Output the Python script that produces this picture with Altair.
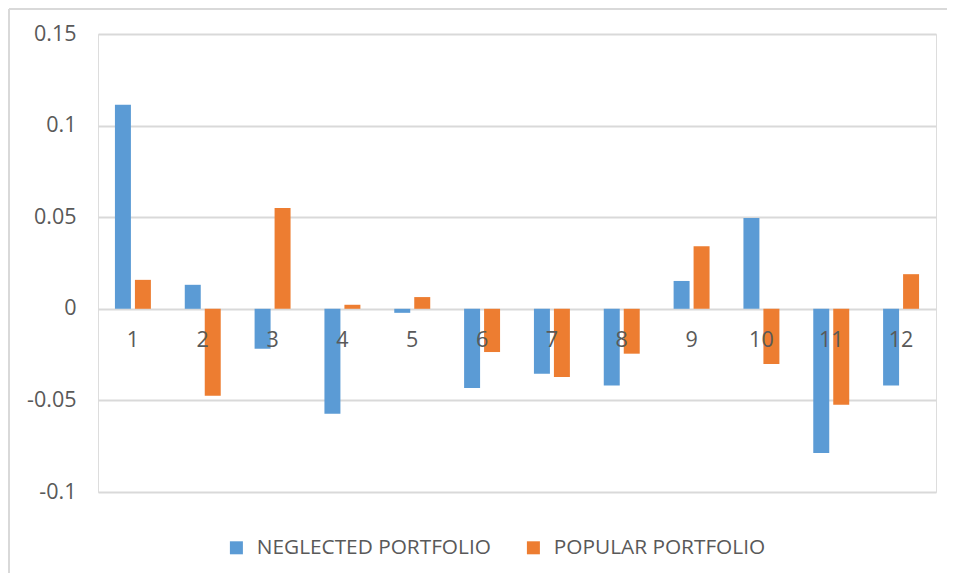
import altair as alt
import pandas as pd

months = [str(i) for i in range(1, 13)]
neglected = [0.1114, 0.0131, -0.0218, -0.0573, -0.0022, -0.0432, -0.0355, -0.0419, 0.0152, 0.0495, -0.0787, -0.0419]
popular = [0.0158, -0.0475, 0.0550, 0.0022, 0.0064, -0.0236, -0.0372, -0.0245, 0.0341, -0.0301, -0.0524, 0.0189]
series_names = ["NEGLECTED PORTFOLIO", "POPULAR PORTFOLIO"]
colors = ["#5B9BD5", "#ED7D31"]
y_ticks = [-0.1, -0.05, 0, 0.05, 0.1, 0.15]

rows = []
for m, a, b in zip(months, neglected, popular):
    rows.append({"month": m, "series": series_names[0], "value": a})
    rows.append({"month": m, "series": series_names[1], "value": b})
df = pd.DataFrame(rows)
labels_df = pd.DataFrame({"month": months})

FONT = "Open Sans"
TXT = "#595959"
GRID = "#D9D9D9"
FS = 21.5

x_enc = alt.X("month:N", sort=months, axis=None,
              scale=alt.Scale(paddingInner=0.485, paddingOuter=0.2425))

bars = alt.Chart(df).mark_bar().encode(
    x=x_enc,
    xOffset=alt.XOffset("series:N", sort=series_names,
                        scale=alt.Scale(paddingInner=0.2, paddingOuter=0)),
    y=alt.Y("value:Q",
            scale=alt.Scale(domain=[-0.1, 0.15], nice=False, zero=False),
            axis=alt.Axis(values=y_ticks, title=None, ticks=False, domain=False,
                          labelPadding=22, labelFontSize=FS, labelFont=FONT,
                          labelColor=TXT, gridColor=GRID, gridWidth=2,
                          labelExpr="'' + datum.value")),
    color=alt.Color("series:N", sort=series_names,
                    scale=alt.Scale(domain=series_names, range=colors),
                    legend=alt.Legend(title=None, orient="none", direction="horizontal",
                                      legendX=128, legendY=503,
                                      symbolType="square", symbolSize=169,
                                      symbolStrokeWidth=0, labelOffset=10,
                                      columnPadding=32, labelFontSize=20.8,
                                      labelLimit=0,
                                      labelFont=FONT, labelColor=TXT)),
)

xlabels = alt.Chart(labels_df).mark_text(
    baseline="middle", dy=32, fontSize=FS, font=FONT, color=TXT
).encode(
    x=x_enc,
    y=alt.datum(0),
    text="month:N",
)

left_border = alt.Chart(pd.DataFrame({"a": [0]})).mark_rule(
    color=GRID, strokeWidth=2
).encode(x=alt.value(-89), y=alt.value(-25), y2=alt.value(700))

top_border = alt.Chart(pd.DataFrame({"a": [0]})).mark_rule(
    color=GRID, strokeWidth=2
).encode(x=alt.value(-89), x2=alt.value(1000), y=alt.value(-25))

chart = alt.layer(bars, xlabels, left_border, top_border).properties(
    width=838, height=458,
    autosize=alt.AutoSizeParams(type="none"),
    padding={"left": 90, "top": 26, "right": 11, "bottom": 81},
).configure_view(stroke=None).configure(background="white")

chart.save("out.html", embed_options={"renderer": "svg", "actions": False})
